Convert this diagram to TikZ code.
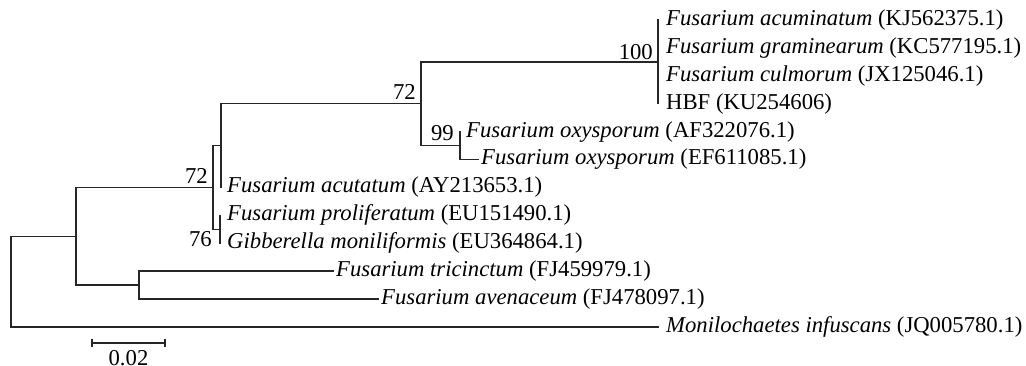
\documentclass[tikz,border=0pt]{standalone}
\usepackage{fontspec}
\usetikzlibrary{calc}
\setmainfont{Liberation Serif}
\newcommand\lblfont{\fontsize{22.7}{26}\selectfont}
\begin{document}
\begin{tikzpicture}[x=1pt,y=-1pt,
  br/.style={line width=1.3pt, draw=black!85, line cap=rect},
  leaf/.style={anchor=west, inner sep=0pt, font=\lblfont, xshift=4pt},
  boot/.style={inner sep=0pt, font=\lblfont},
  tick/.style={line width=1.3pt, draw=black!85}]
\useasboundingbox[fill=white] (0,0) rectangle (1026,365);
% internal nodes
\coordinate (root) at (11,281.6);
\coordinate (A) at (76,236.2);
\coordinate (E) at (139,285.05);
\coordinate (B) at (213,187.4);
\coordinate (C) at (220,229.25);
\coordinate (D) at (221,145.55);
\coordinate (F) at (421,103.7);
\coordinate (G) at (460,145.55);
\coordinate (H) at (658,61.85);
% leaves
\coordinate (l0) at (658,20);
\coordinate (l1) at (658,47.9);
\coordinate (l2) at (658,75.8);
\coordinate (l3) at (658,103.7);
\coordinate (l4) at (460,131.6);
\coordinate (l5) at (478,159.5);
\coordinate (l6) at (221,187.4);
\coordinate (l7) at (220,215.3);
\coordinate (l8) at (220,243.2);
\coordinate (l9) at (333,271.1);
\coordinate (l10) at (378,299);
\coordinate (l11) at (658,326.9);
% branches
\draw[br] (root) |- (A);
\draw[br] (root) |- (l11);
\draw[br] (A) |- (B);
\draw[br] (A) |- (E);
\draw[br] (E) |- (l9);
\draw[br] (E) |- (l10);
\draw[br] (B) |- (D);
\draw[br] (B) |- (C);
\draw[br] (C) |- (l7);
\draw[br] (C) |- (l8);
\draw[br] (D) |- (F);
\draw[br] (D) |- (l6);
\draw[br] (F) |- (H);
\draw[br] (F) |- (G);
\draw[br] (G) |- (l4);
\draw[br] (G) |- (l5);
\draw[br] (H) |- (l0);
\draw[br] (H) |- (l3);
% leaf labels
\node[leaf, xshift=4pt] (t0) at (l0) {\textit{Fusarium acuminatum} (KJ562375.1)};
\node[leaf, xshift=4pt] (t1) at (l1) {\textit{Fusarium graminearum} (KC577195.1)};
\node[leaf, xshift=4pt] (t2) at (l2) {\textit{Fusarium culmorum} (JX125046.1)};
\node[leaf, xshift=4pt] (t3) at (l3) {HBF (KU254606)};
\node[leaf, xshift=2pt] (t4) at (l4) {\textit{Fusarium oxysporum} (AF322076.1)};
\node[leaf, xshift=-1pt] (t5) at (l5) {\textit{Fusarium oxysporum} (EF611085.1)};
\node[leaf, xshift=2pt] (t6) at (l6) {\textit{Fusarium acutatum} (AY213653.1)};
\node[leaf, xshift=3pt] (t7) at (l7) {\textit{Fusarium proliferatum} (EU151490.1)};
\node[leaf, xshift=3pt] (t8) at (l8) {\textit{Gibberella moniliformis} (EU364864.1)};
\node[leaf, xshift=-1pt] (t9) at (l9) {\textit{Fusarium tricinctum} (FJ459979.1)};
\node[leaf, xshift=-1pt] (t10) at (l10) {\textit{Fusarium avenaceum} (FJ478097.1)};
\node[leaf, xshift=4pt] (t11) at (l11) {\textit{Monilochaetes infuscans} (JQ005780.1)};
% bootstrap values
\node[boot, anchor=base east] (b100) at ([xshift=-5pt,yshift=2pt]H) {100};
\node[boot, anchor=base east] (b72a) at ([xshift=-5pt,yshift=4pt]F) {72};
\node[boot, anchor=base east] (b99) at ([xshift=-6pt,yshift=5pt]G) {99};
\node[boot, anchor=base east] (b72b) at ([xshift=-5pt,yshift=4pt]B) {72};
\node[boot, anchor=north east] (b76) at ([xshift=-8pt,yshift=-2pt]C) {76};
% scale bar
\coordinate (s1) at (92,343);
\coordinate (s2) at (165,343);
\coordinate (sm) at ($(s1)!0.5!(s2)$);
\draw[tick] (s1) -- (s2);
\draw[tick] ([yshift=-4pt]s1) -- ([yshift=4pt]s1);
\draw[tick] ([yshift=-4pt]s2) -- ([yshift=4pt]s2);
\node[boot, anchor=north] (sl) at ([yshift=-7pt]sm) {0.02};
\end{tikzpicture}
\end{document}
